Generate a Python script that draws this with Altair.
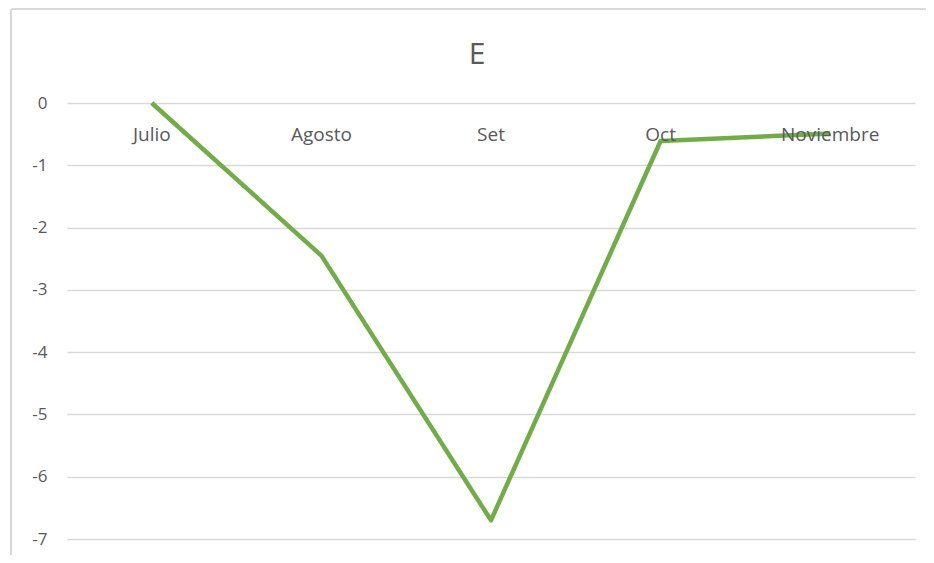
import altair as alt
import pandas as pd

months = ["Julio", "Agosto", "Set", "Oct", "Noviembre"]
values = [0.0, -2.45, -6.7, -0.61, -0.49]
title_text = "E"
y_ticks = [0, -1, -2, -3, -4, -5, -6, -7]

df = pd.DataFrame({"mes": months, "valor": values})
title_df = pd.DataFrame({"t": [title_text]})

FONT = "Open Sans"
GRAY = "#595959"

x = alt.X("mes:N", sort=months, scale=alt.Scale(type="point", padding=0.5), axis=None)

line = alt.Chart(df).mark_line(color="#70AD47", strokeWidth=4.5, strokeJoin="round").encode(
    x=x,
    y=alt.Y("valor:Q", scale=alt.Scale(domain=[-7, 0], nice=False),
            axis=alt.Axis(values=y_ticks, title=None, domain=False, ticks=False,
                          labelExpr="'' + datum.value",
                          labelPadding=20, labelFontSize=17, labelColor=GRAY, labelFont=FONT,
                          gridColor="#d9d9d9", gridWidth=1.5)),
)

labels = alt.Chart(df).mark_text(font=FONT, fontSize=19, color=GRAY, dy=32, baseline="middle").encode(
    x=x,
    y=alt.datum(0),
    text="mes:N",
)

title = alt.Chart(title_df).mark_text(font=FONT, fontSize=30, color=GRAY, baseline="alphabetic").encode(
    x=alt.value(410), y=alt.value(-39), text="t:N")

frame_left = alt.Chart(df).mark_rule(color="#d9d9d9", strokeWidth=2).encode(
    x=alt.value(-56), y=alt.value(-94), y2=alt.value(470))
frame_top = alt.Chart(df).mark_rule(color="#d9d9d9", strokeWidth=2).encode(
    x=alt.value(-56), x2=alt.value(880), y=alt.value(-94))

chart = alt.layer(frame_left, frame_top, line, labels, title).properties(
    width=848, height=436,
    autosize=alt.AutoSizeParams(type="none"),
    padding={"left": 59, "top": 95, "right": 11, "bottom": 16},
).configure_view(stroke=None)

chart.save("out.html", embed_options={"renderer": "svg", "actions": False})
